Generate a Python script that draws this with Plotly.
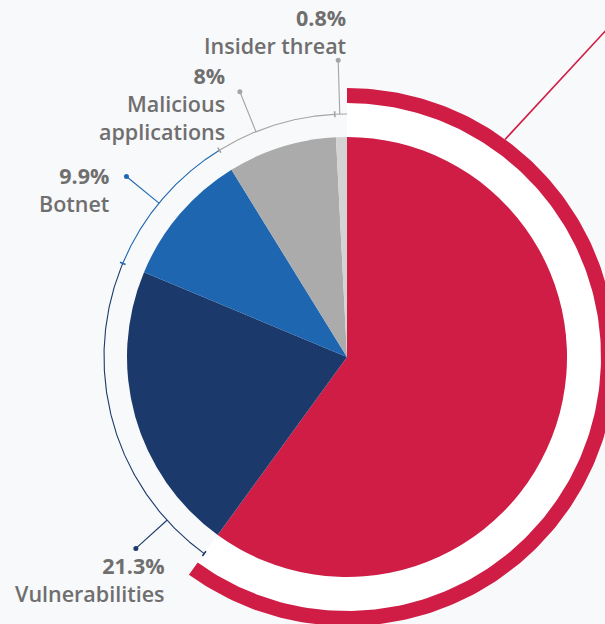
import numpy as np
import plotly.graph_objects as go

# ---------------- data ----------------
categories = ["Other", "Vulnerabilities", "Botnet", "Malicious applications", "Insider threat"]
values = [60.0, 21.3, 9.9, 8.0, 0.8]
pct_labels = ["", "21.3%", "9.9%", "8%", "0.8%"]
name_lines = [[], ["Vulnerabilities"], ["Botnet"], ["Malicious", "applications"], ["Insider threat"]]

# ---------------- styling / layout ----------------
W, H = 605, 624
CX, CY, R = 347, 357, 220          # pie centre and radius (px)
BG = "#f8f9fa"
slice_colors = ["#CF1D45", "#1B3A6B", "#1F66B0", "#ABABAB", "#D3D3D3"]
line_colors = ["#CF1D45", "#1B3A6B", "#1F66B0", "#A5A5A5", "#A5A5A5"]
TEXT = "#6f6f6f"
FONT = "Open Sans"
FSIZE = 21.5

R_WHITE_OUT = 254
R_RED_OUT = 269
R_ARC = 243
leader_angles = [None, 227.8, 309.3, 338.0, 358.3]   # where leaders leave the bracket (deg, clockwise from top)
leader_len = [None, 42, 42, 43, 54]
label_pos = [None, (167, 579), (111, 189), (227, 103), (348, 31)]  # right edge x, block centre y

total = sum(values)
cum = np.concatenate([[0], np.cumsum(values)]) / total * 360.0


def pt(theta_deg, r):
    t = np.radians(theta_deg)
    return CX + r * np.sin(t), CY - r * np.cos(t)


def arc(a0, a1, r, n=200):
    th = np.linspace(a0, a1, n)
    return pt(th, r)


fig = go.Figure()

# main pie
fig.add_trace(go.Pie(
    labels=categories, values=values, sort=False, direction="clockwise", rotation=0,
    marker=dict(colors=slice_colors, line=dict(width=0)),
    textinfo="none", hoverinfo="label+percent", showlegend=False,
    domain=dict(x=[(CX - R) / W, (CX + R) / W], y=[1 - (CY + R) / H, 1 - (CY - R) / H]),
))

# white band and red band around the first slice
a0, a1 = cum[0], cum[1]
for r_in, r_out, col in [(R, R_WHITE_OUT, "#ffffff"), (R_WHITE_OUT, R_RED_OUT, slice_colors[0])]:
    xo, yo = arc(a0, a1, r_out)
    xi, yi = arc(a1, a0, r_in)
    fig.add_trace(go.Scatter(
        x=np.concatenate([xo, xi, xo[:1]]), y=np.concatenate([yo, yi, yo[:1]]),
        mode="lines", fill="toself", fillcolor=col, line=dict(width=0, color=col),
        hoverinfo="skip", showlegend=False,
    ))

# red leader going off to the right
lx0, ly0 = pt(36, R_RED_OUT)
fig.add_trace(go.Scatter(
    x=[lx0, lx0 + 160], y=[ly0, ly0 - 173], mode="lines",
    line=dict(color=slice_colors[0], width=1.6), hoverinfo="skip", showlegend=False,
))

# brackets, ticks, leaders, dots
for i in range(1, len(values)):
    c = line_colors[i]
    xa, ya = arc(cum[i], cum[i + 1], R_ARC)
    fig.add_trace(go.Scatter(x=xa, y=ya, mode="lines", line=dict(color=c, width=1.1),
                             hoverinfo="skip", showlegend=False))
    tx0, ty0 = pt(cum[i], R_ARC - 3)
    tx1, ty1 = pt(cum[i], R_ARC + 3)
    fig.add_trace(go.Scatter(x=[tx0, tx1], y=[ty0, ty1], mode="lines", line=dict(color=c, width=1.6),
                             hoverinfo="skip", showlegend=False))
    ang = leader_angles[i]
    bx, by = pt(ang, R_ARC)
    dx, dy = pt(ang, R_ARC + leader_len[i])
    fig.add_trace(go.Scatter(x=[bx, dx], y=[by, dy], mode="lines", line=dict(color=c, width=1.1),
                             hoverinfo="skip", showlegend=False))
    fig.add_trace(go.Scatter(x=[dx], y=[dy], mode="markers", marker=dict(color=c, size=5),
                             hoverinfo="skip", showlegend=False))

    # labels (one text block per slice)
    rx, ry = label_pos[i]
    text = "<b>" + pct_labels[i] + "</b><br>" + "<br>".join(name_lines[i])
    fig.add_annotation(x=rx, y=ry, xref="x", yref="y", text=text, showarrow=False,
                       xanchor="right", yanchor="middle", align="right",
                       font=dict(family=FONT, size=FSIZE, color=TEXT, weight=600))

fig.update_layout(
    width=W, height=H, margin=dict(l=0, r=0, t=0, b=0),
    paper_bgcolor=BG, plot_bgcolor=BG,
    xaxis=dict(range=[0, W], visible=False, fixedrange=True),
    yaxis=dict(range=[H, 0], visible=False, fixedrange=True),
    showlegend=False,
)

fig.write_html("out.html", config={"displayModeBar": False},
               post_script="document.body.style.margin='0';document.body.style.overflow='hidden';")
